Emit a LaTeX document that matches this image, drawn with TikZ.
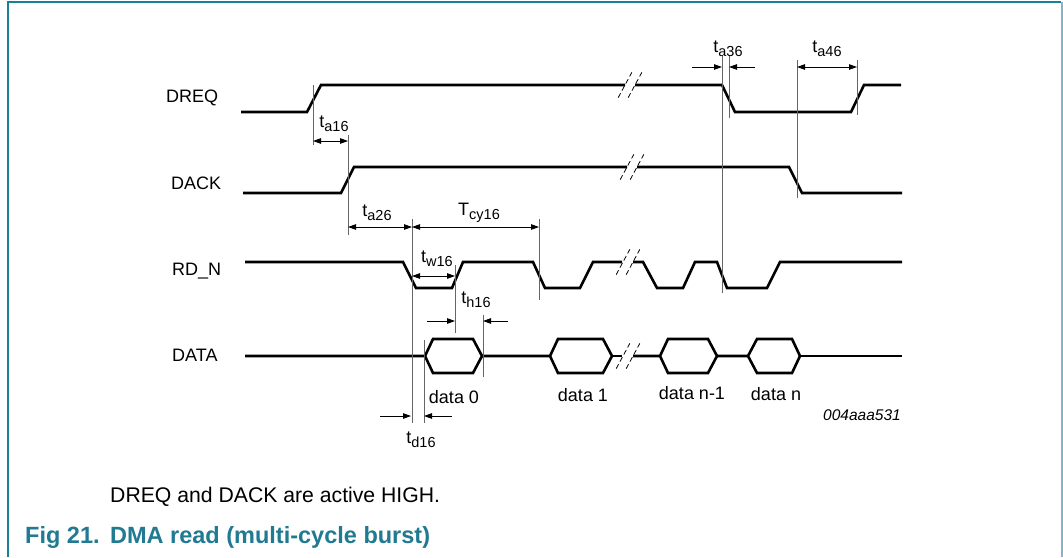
\documentclass[tikz,border=0pt]{standalone}
\usepackage{fontspec}
\setmainfont{Liberation Sans}
\usetikzlibrary{arrows.meta}
\definecolor{nxp}{HTML}{1A7F99}
\definecolor{nxplight}{HTML}{80B8C8}
\definecolor{figcol}{HTML}{1F7A92}
\newcommand{\tsb}[2]{#1\raisebox{-4pt}{\fontsize{14.5}{14.5}\selectfont #2}}
\newcommand{\brk}[2]{%
  \draw[brkline] ({#1-5-6.8},{#2+12.6}) -- ({#1-5+6.8},{#2-12.6});
  \draw[brkline] ({#1+5-6.8},{#2+12.6}) -- ({#1+5+6.8},{#2-12.6});}
\begin{document}
\begin{tikzpicture}[x=1pt,y=-1pt,
  sig/.style={line width=2.6pt, line join=miter},
  guide/.style={black!60, line width=0.9pt},
  dim/.style={line width=0.9pt, {Triangle[length=8pt,width=5.5pt]}-{Triangle[length=8pt,width=5.5pt]}},
  ptr/.style={line width=0.9pt, -{Triangle[length=8pt,width=5.5pt]}},
  lbl/.style={font=\fontsize{18}{18}\selectfont, inner sep=0pt},
  brkline/.style={line width=0.8pt, dash pattern=on 5pt off 3pt}]
\useasboundingbox (0,0) rectangle (1063,557);
% frame
\fill[white] (0,0) rectangle (1063,557);
\draw[nxp, line width=1.6pt] (8,557) -- (8,2) -- (1061,2);
\fill[nxplight] (1060.5,2) rectangle (1063,557);

% signal names
\node[lbl, anchor=base west] (nDREQ) at (166,102) {DREQ};
\node[lbl, anchor=base west] (nDACK) at (171,189) {DACK};
\node[lbl, anchor=base west] (nRDN) at (172,275) {RD\_N};
\node[lbl, anchor=base west] (nDATA) at (172,361) {DATA};

% DREQ
\draw[sig] (241,112) -- (307,112) -- (321,85) -- (625,85);
\draw[sig] (635,85) -- (722,85) -- (735,112) -- (851,112) -- (864,85) -- (901,85);
\brk{630}{85}
% DACK
\draw[sig] (243,193) -- (341,193) -- (354,167) -- (627,167);
\draw[sig] (637,167) -- (789,167) -- (802,193) -- (902,193);
\brk{632}{167}
% RD_N
\draw[sig] (245,262) -- (403,262) -- (416,288) -- (452,288) -- (463,262) -- (533,262) -- (545,288) -- (580,288) -- (593,262) -- (622,262);
\draw[sig] (633,262) -- (643,262) -- (657,288) -- (683,288) -- (695,262) -- (717,262) -- (727,288) -- (767,288) -- (780,262) -- (902,262);
\brk{628}{262}
% DATA
\draw[sig] (245,356) -- (425,356) -- (433,339) -- (473,339) -- (482,356) -- (473,373) -- (433,373) -- (425,356);
\draw[sig] (482,356) -- (550,356) -- (558,339) -- (603,339) -- (612,356) -- (603,373) -- (558,373) -- (550,356);
\draw[sig] (612,356) -- (622,356);
\draw[sig] (633,356) -- (660,356) -- (668,339) -- (708,339) -- (717,356) -- (708,373) -- (668,373) -- (660,356);
\draw[sig] (717,356) -- (748,356) -- (757,339) -- (792,339) -- (800,356) -- (792,373) -- (757,373) -- (748,356);
\draw[sig] (800,356) -- (902,356);
\brk{628}{356}

% guides
\draw[guide] (313,85) -- (313,145);
\draw[guide] (348,135) -- (348,235);
\draw[guide] (412,219) -- (412,423);
\draw[guide] (539,219) -- (539,300);
\draw[guide] (455,265) -- (455,333);
\draw[guide] (483,315) -- (483,377);
\draw[guide] (424,340) -- (424,423);
\draw[guide] (722,56) -- (722,293);
\draw[guide] (729,56) -- (729,118);
\draw[guide] (797,60) -- (797,198);
\draw[guide] (857,60) -- (857,115);

% dimension arrows
\draw[dim] (313,141) -- (348,141);
\draw[dim] (348,227) -- (412,227);
\draw[dim] (412,227) -- (539,227);
\draw[dim] (412,276) -- (455,276);
\draw[dim] (797,67) -- (857,67);
\draw[ptr] (692,67) -- (722,67);
\draw[ptr] (755,67) -- (729,67);
\draw[ptr] (427,321) -- (455,321);
\draw[ptr] (508,321) -- (483,321);
\draw[ptr] (380,416) -- (411,416);
\draw[ptr] (452,416) -- (424,416);

% timing labels
\node[lbl] (la16) at (334,124) {\tsb{t}{a16}};
\node[lbl] (la26) at (377,213) {\tsb{t}{a26}};
\node[lbl] (lcy16) at (479,213) {\tsb{T}{cy16}};
\node[lbl] (lw16) at (437,259) {\tsb{t}{w16}};
\node[lbl] (lh16) at (476,300) {\tsb{t}{h16}};
\node[lbl] (ld16) at (421,440) {\tsb{t}{d16}};
\node[lbl] (la36) at (728,49) {\tsb{t}{a36}};
\node[lbl] (la46) at (827,49) {\tsb{t}{a46}};

% data labels
\node[lbl] (d0) at (454,397) {data 0};
\node[lbl] (d1) at (583,395) {data 1};
\node[lbl] (dn1) at (692,393) {data n-1};
\node[lbl] (dn) at (776,394) {data n};
\node[inner sep=0pt, anchor=east, font=\fontsize{15.5}{15.5}\selectfont\itshape] (code) at (901,415) {004aaa531};

% captions
\node[inner sep=0pt, anchor=base west, font=\fontsize{21.2}{21.2}\selectfont] (note) at (110,502) {DREQ and DACK are active HIGH.};
\node[inner sep=0pt, anchor=base west, text=figcol, font=\fontsize{23.5}{23.5}\selectfont\bfseries] (fig) at (25,543) {Fig 21.};
\node[inner sep=0pt, anchor=base west, text=figcol, font=\fontsize{23.5}{23.5}\selectfont\bfseries] (figt) at (110,543) {DMA read (multi-cycle burst)};
\end{tikzpicture}
\end{document}
